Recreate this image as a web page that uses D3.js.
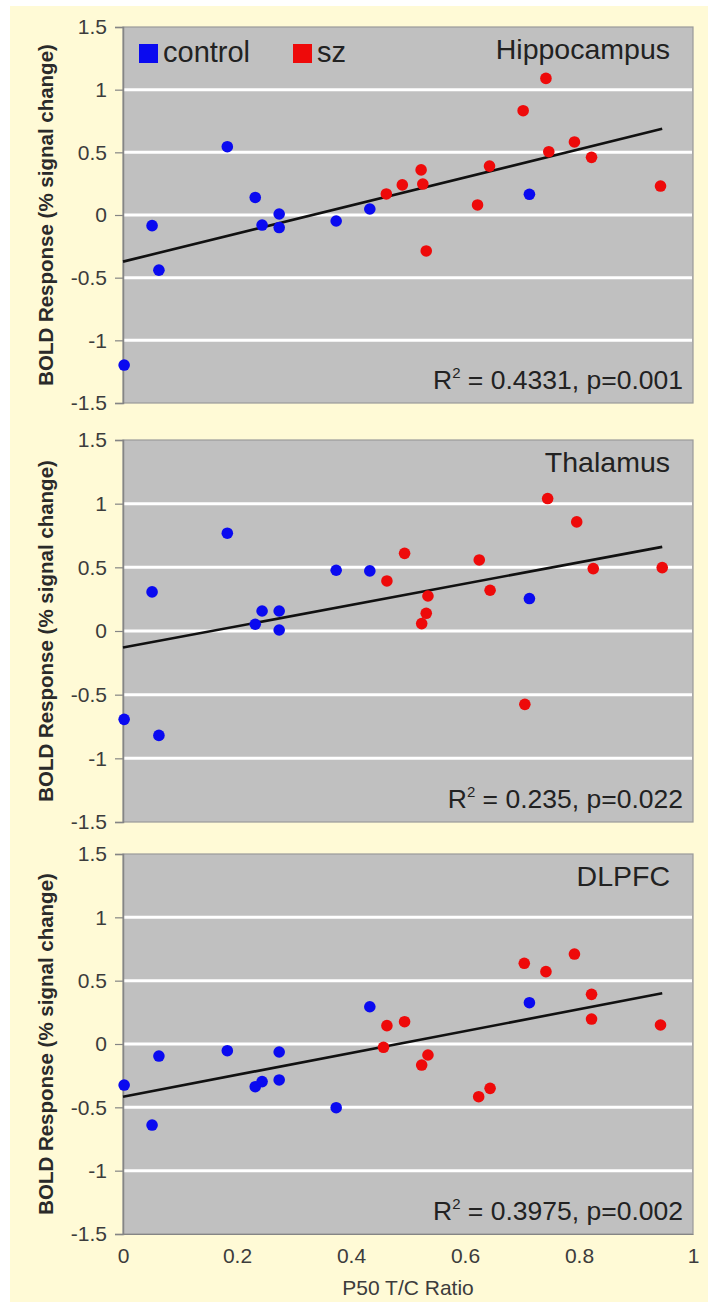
<!DOCTYPE html>
<html>
<head>
<meta charset="utf-8">
<script src="https://cdn.jsdelivr.net/npm/d3@7/dist/d3.min.js"></script>
<style>
  html, body { margin: 0; padding: 0; background: #fff; }
  svg { display: block; font-family: "Liberation Sans", Arial, sans-serif; }
</style>
</head>
<body>
<svg id="chart" width="708" height="1302"></svg>
<script>
// regions, one panel each
const regions = ['Hippocampus', 'Thalamus', 'DLPFC'];
const stats = ['0.4331, p=0.001', '0.235, p=0.022', '0.3975, p=0.002'];

// P50 T/C ratio of control subjects, BOLD response per region
const controlX = [0.002, 0.051, 0.063, 0.183, 0.232, 0.244, 0.274, 0.274, 0.374, 0.433, 0.713];
const controlY = [
  [-1.197, -0.085, -0.44, 0.545, 0.14, -0.08, 0.008, -0.10, -0.048, 0.048, 0.165],
  [-0.694, 0.307, -0.82, 0.768, 0.053, 0.157, 0.157, 0.008, 0.477, 0.472, 0.255],
  [-0.324, -0.64, -0.095, -0.053, -0.337, -0.297, -0.063, -0.284, -0.503, 0.294, 0.326]
];

// schizophrenia subjects
const szX = [
  [0.462, 0.490, 0.523, 0.526, 0.532, 0.622, 0.643, 0.702, 0.742, 0.747, 0.792, 0.822, 0.943],
  [0.463, 0.494, 0.524, 0.532, 0.535, 0.625, 0.644, 0.705, 0.745, 0.796, 0.825, 0.946],
  [0.457, 0.463, 0.494, 0.524, 0.535, 0.624, 0.644, 0.704, 0.742, 0.792, 0.822, 0.822, 0.943]
];
const szY = [
  [0.168, 0.24, 0.36, 0.247, -0.287, 0.08, 0.39, 0.832, 1.09, 0.505, 0.583, 0.46, 0.231],
  [0.393, 0.61, 0.058, 0.139, 0.275, 0.558, 0.32, -0.576, 1.04, 0.857, 0.49, 0.498],
  [-0.026, 0.145, 0.176, -0.166, -0.087, -0.416, -0.35, 0.637, 0.571, 0.71, 0.392, 0.197, 0.15]
];

// linear fit
const fitIntercept = [-0.372, -0.13, -0.416];
const fitSlope = [1.12, 0.836, 0.863];
const fitRange = [0, 0.946];

const yTicks = [-1.5, -1, -0.5, 0, 0.5, 1, 1.5];
const yGrid = [-1, -0.5, 0, 0.5, 1];
const xTicks = [0, 0.2, 0.4, 0.6, 0.8, 1];

const svg = d3.select('#chart');

// cream backdrop
svg.append('rect')
  .attr('x', 10).attr('y', 6)
  .attr('width', 698).attr('height', 1296)
  .attr('fill', '#fffad6');

const left = 123, right = 693;
const panelTop = [27, 440, 854];
const panelBottom = [403, 822, 1234];

const x = d3.scaleLinear().domain([0, 1]).range([left, right]);

regions.forEach((region, i) => {
  const y = d3.scaleLinear().domain([-1.5, 1.5]).range([panelBottom[i], panelTop[i]]);
  const g = svg.append('g');

  g.append('rect')
    .attr('x', left).attr('y', panelTop[i])
    .attr('width', right - left).attr('height', panelBottom[i] - panelTop[i])
    .attr('fill', '#c0c0c0')
    .attr('stroke', '#9a9a9a')
    .attr('stroke-width', 1.2);

  // white gridlines
  g.selectAll('.grid')
    .data(yGrid)
    .enter().append('line')
    .attr('x1', left + 1).attr('x2', right - 1)
    .attr('y1', d => y(d)).attr('y2', d => y(d))
    .attr('stroke', '#ffffff')
    .attr('stroke-width', 3);

  // y axis
  const ax = g.append('g')
    .attr('transform', `translate(${left},0)`)
    .call(d3.axisLeft(y).tickValues(yTicks).tickSize(8).tickPadding(8).tickFormat(d => String(d)));
  ax.select('.domain').attr('stroke', '#858585').attr('stroke-width', 1.5);
  ax.selectAll('.tick line').attr('stroke', '#858585').attr('stroke-width', 1.2);
  ax.selectAll('.tick text')
    .attr('font-size', 21)
    .attr('fill', '#3c3c3c')
    .attr('font-family', '"Liberation Sans", Arial, sans-serif');

  // y axis title
  g.append('text')
    .attr('transform', `translate(53,${(panelTop[i] + panelBottom[i]) / 2}) rotate(-90)`)
    .attr('text-anchor', 'middle')
    .attr('font-size', 20.5)
    .attr('font-weight', 'bold')
    .attr('fill', '#2a2a2a')
    .text('BOLD Response (% signal change)');

  // fit line
  const line = d3.line().x(d => x(d)).y(d => y(fitIntercept[i] + fitSlope[i] * d));
  g.append('path')
    .datum(fitRange)
    .attr('d', line)
    .attr('fill', 'none')
    .attr('stroke', '#111')
    .attr('stroke-width', 2.6);

  // points
  const pts = controlX.map((v, j) => ({ x: v, y: controlY[i][j], c: '#0a0af0' }))
    .concat(szX[i].map((v, j) => ({ x: v, y: szY[i][j], c: '#ee0a0a' })));
  g.selectAll('.pt')
    .data(pts)
    .enter().append('circle')
    .attr('cx', d => x(d.x))
    .attr('cy', d => y(d.y))
    .attr('r', 5.8)
    .attr('fill', d => d.c);

  // region name
  g.append('text')
    .attr('x', right - 23).attr('y', panelTop[i] + 32)
    .attr('text-anchor', 'end')
    .attr('font-size', 28.5)
    .attr('fill', '#222')
    .text(region);

  // R squared
  const st = g.append('text')
    .attr('x', right - 10).attr('y', panelBottom[i] - 14)
    .attr('text-anchor', 'end')
    .attr('font-size', 26.5)
    .attr('fill', '#222');
  st.append('tspan').text('R');
  st.append('tspan').attr('font-size', 15).attr('dy', -11).text('2');
  st.append('tspan').attr('dy', 11).text(' = ' + stats[i]);
});

// legend in first panel
const legend = [
  { label: 'control', color: '#0a0af0', x: 139 },
  { label: 'sz', color: '#ee0a0a', x: 293 }
];
legend.forEach(d => {
  svg.append('rect')
    .attr('x', d.x).attr('y', 44)
    .attr('width', 19).attr('height', 19)
    .attr('fill', d.color);
  svg.append('text')
    .attr('x', d.x + 24).attr('y', 62)
    .attr('font-size', 29)
    .attr('fill', '#222')
    .text(d.label);
});

// x axis under bottom panel
const xa = svg.append('g')
  .attr('transform', `translate(0,${panelBottom[2]})`)
  .call(d3.axisBottom(x).tickValues(xTicks).tickSize(0).tickPadding(14).tickFormat(d => String(d)));
xa.select('.domain').attr('stroke', '#858585').attr('stroke-width', 1.2);
xa.selectAll('.tick text')
  .attr('font-size', 21)
  .attr('fill', '#3c3c3c')
  .attr('font-family', '"Liberation Sans", Arial, sans-serif');

svg.append('text')
  .attr('x', (left + right) / 2).attr('y', 1295)
  .attr('text-anchor', 'middle')
  .attr('font-size', 21)
  .attr('fill', '#3c3c3c')
  .text('P50 T/C Ratio');
</script>
</body>
</html>
